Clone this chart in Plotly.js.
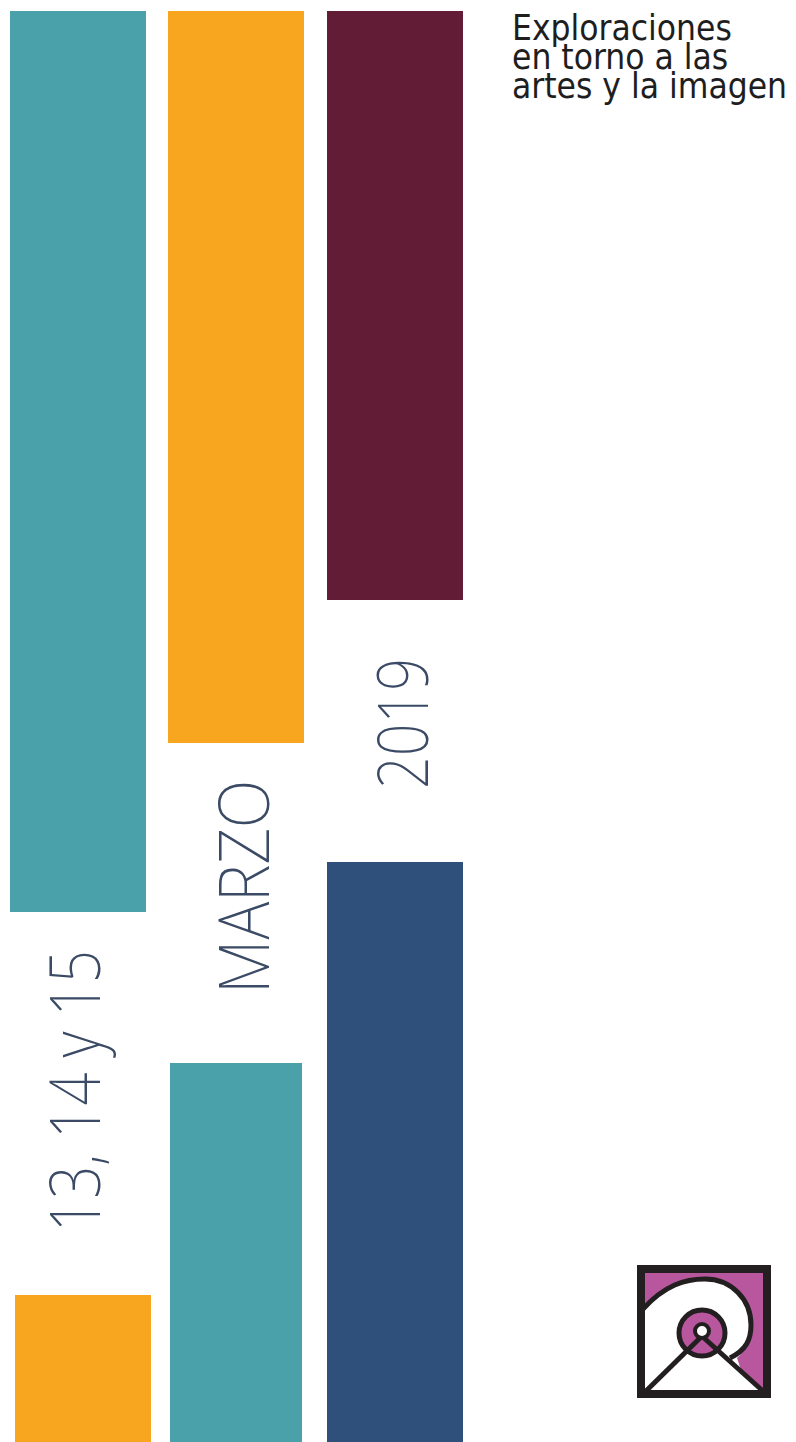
<!DOCTYPE html>
<html>
<head>
<meta charset="utf-8">
<script src="https://cdn.plot.ly/plotly-3.0.1.min.js"></script>
<style>
html,body{margin:0;padding:0;background:#fff}
#chart{width:796px;height:1442px}
text.annotation-text[data-unformatted="2019"]{transform-box:fill-box;transform-origin:center;transform:scaleX(0.81);}
text.annotation-text[data-unformatted="MARZO"]{transform-box:fill-box;transform-origin:center;transform:scaleX(0.9);}
text.annotation-text[data-unformatted="13, 14 y 15"]{transform-box:fill-box;transform-origin:center;transform:scaleX(0.82);}
</style>
</head>
<body>
<div id="chart"></div>
<script>
// Bar blocks (column centre, width, top, bottom) in page units
const barNames   = ["Turquesa 1", "Naranja 1", "Granate", "Naranja 2", "Turquesa 2", "Azul"];
const barCenters = [78, 236, 395, 83, 236, 395];
const barWidths  = [136, 136, 136, 136, 132, 136];
const barTops    = [11, 11, 11, 1295, 1063, 862];
const barBottoms = [912, 743, 600, 1450, 1450, 1450];
const barColors  = ["#4aa1a9", "#f8a51f", "#621c35", "#f8a51f", "#4aa1a9", "#2f507b"];

// Vertical labels
const labelTexts = ["13, 14 y 15", "MARZO", "2019"];
const labelX     = [73, 241, 400];
const labelY     = [1091, 887, 724];

// Title lines
const titleLines = ["Exploraciones", "en torno a las", "artes y la imagen"];
const titleBase  = [50, 79, 108];

const traces = barNames.map((n, i) => ({
  type: "bar",
  name: n,
  x: [barCenters[i]],
  base: [barTops[i]],
  y: [barBottoms[i] - barTops[i]],
  width: [barWidths[i]],
  marker: { color: barColors[i], line: { width: 0 } },
  hoverinfo: "skip",
  showlegend: false
}));

const labelFont = {
  family: "'Noto Sans', sans-serif",
  size: 71,
  color: "#3b4a65",
  weight: 200
};

const annotations = [];
labelTexts.forEach((t, i) => annotations.push({
  text: t, x: labelX[i], y: labelY[i], xref: "x", yref: "y",
  showarrow: false, textangle: -90, xanchor: "center", yanchor: "middle",
  font: labelFont
}));
titleLines.forEach((t, i) => annotations.push({
  text: t, x: 510, y: titleBase[i], xref: "x", yref: "y",
  showarrow: false, xanchor: "left", yanchor: "bottom",
  font: { family: "'DejaVu Sans Condensed', 'DejaVu Sans', sans-serif", size: 35, color: "#1e1e1e" }
}));

const K = "#231f20", M = "#b9579e";
const shapes = [
  { type: "rect", xref: "x", yref: "y", x0: 641, x1: 767, y0: 1269, y1: 1394, fillcolor: M, line: { width: 0 } },
  { type: "path", xref: "x", yref: "y",
    path: "M645,1308 C665,1285 685,1279 705,1279 C731,1279 751,1299 751,1325 C751,1340 746,1350 737,1358 L742,1373 L765,1394 L645,1394 Z",
    fillcolor: "#ffffff", line: { width: 0 } },
  { type: "path", xref: "x", yref: "y",
    path: "M643,1309 C665,1285 685,1279 705,1279 C731,1279 751,1299 751,1325 C751,1340 746,1350 730,1358",
    fillcolor: "rgba(0,0,0,0)", line: { color: K, width: 5 } },
  { type: "circle", xref: "x", yref: "y", x0: 679, x1: 725, y0: 1310, y1: 1356, fillcolor: M, line: { color: K, width: 5 } },
  { type: "line", xref: "x", yref: "y", x0: 700, y0: 1338, x1: 645, y1: 1392, line: { color: K, width: 5 } },
  { type: "line", xref: "x", yref: "y", x0: 704, y0: 1338, x1: 764, y1: 1392, line: { color: K, width: 5 } },
  { type: "circle", xref: "x", yref: "y", x0: 695, x1: 709, y0: 1324, y1: 1338, fillcolor: "#ffffff", line: { color: K, width: 4 } },
  { type: "rect", xref: "x", yref: "y", x0: 641, x1: 767, y0: 1269, y1: 1394, fillcolor: "rgba(0,0,0,0)", line: { color: K, width: 8 } }
];

const layout = {
  width: 796, height: 1442,
  margin: { l: 0, r: 0, t: 0, b: 0, pad: 0 },
  paper_bgcolor: "#ffffff", plot_bgcolor: "#ffffff",
  barmode: "overlay",
  xaxis: { range: [0, 796], visible: false, fixedrange: true },
  yaxis: { range: [1442, 0], visible: false, fixedrange: true },
  showlegend: false,
  annotations: annotations,
  shapes: shapes
};

Plotly.newPlot("chart", traces, layout, { staticPlot: true, displayModeBar: false });
</script>
</body>
</html>
